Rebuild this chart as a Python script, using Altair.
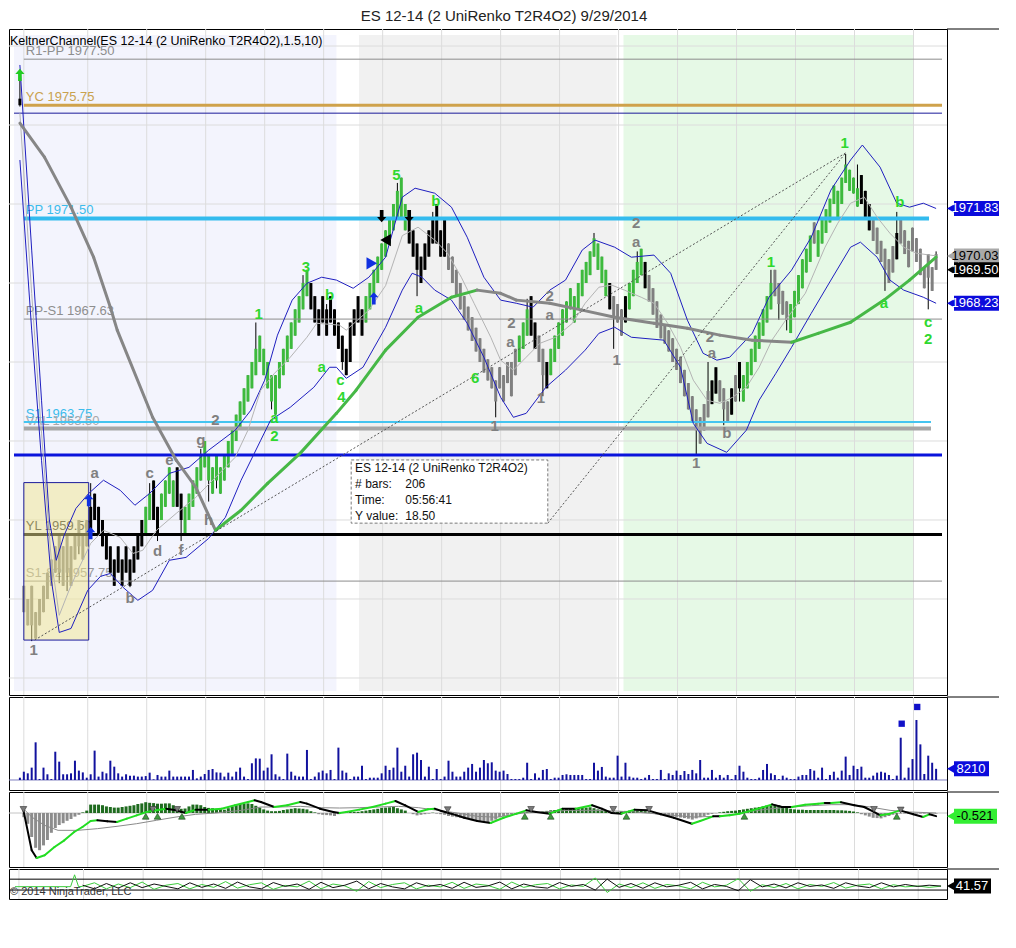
import altair as alt
import pandas as pd

TITLE = "ES 12-14 (2 UniRenko T2R4O2)  9/29/2014"
KELT = "KeltnerChannel(ES 12-14 (2 UniRenko T2R4O2),1.5,10)"
COPY = "\u00a9 2014 NinjaTrader, LLC"

# ---------------- data ----------------
closes = [
    1975.75, 1956.5, 1957.0, 1956.0, 1956.5, 1957.0, 1957.5, 1958.0, 1958.5, 1959.0,
    1958.0, 1959.0, 1958.0, 1959.0, 1959.5, 1959.0, 1959.5, 1960.0, 1960.5, 1960.0,
    1959.5, 1959.0, 1958.5, 1958.0, 1958.5, 1958.0, 1958.5, 1958.0, 1958.5, 1959.0,
    1959.5, 1960.0, 1960.5, 1961.0, 1960.0, 1960.5, 1961.0, 1961.5, 1961.0, 1961.5,
    1960.5, 1960.0, 1960.5, 1961.0, 1961.5, 1962.0, 1962.5, 1962.0, 1961.5, 1962.0,
    1961.5, 1962.0, 1962.5, 1963.0, 1963.5, 1964.0, 1964.5, 1965.0, 1965.5, 1966.0,
    1966.5, 1966.0, 1965.5, 1965.0, 1964.5, 1965.5, 1966.0, 1966.5, 1967.0, 1967.5,
    1968.0, 1968.5, 1969.0, 1968.5, 1968.0, 1967.5, 1968.0, 1967.5, 1968.0, 1967.5,
    1967.0, 1966.5, 1966.0, 1966.5, 1967.5, 1968.0, 1967.5, 1968.0, 1968.5, 1969.0,
    1969.5, 1970.0, 1970.5, 1971.0, 1971.5, 1972.0, 1972.5, 1971.5, 1971.0, 1970.5,
    1970.0, 1969.5, 1970.0, 1970.5, 1971.0, 1971.5, 1970.5, 1971.0, 1970.0, 1969.5,
    1969.0, 1968.5, 1968.0, 1967.6, 1967.2, 1966.8, 1966.4, 1966.0, 1965.6, 1965.3,
    1965.0, 1965.3, 1965.0, 1965.5, 1965.2, 1966.0, 1966.5, 1967.0, 1967.5, 1968.0,
    1967.0, 1966.5, 1966.0, 1965.5, 1966.0, 1966.5, 1967.0, 1967.5, 1968.0, 1968.3,
    1968.0, 1968.5, 1969.0, 1969.5, 1969.8, 1970.2, 1970.0, 1969.5, 1969.0, 1968.5,
    1968.0, 1967.7, 1967.5, 1968.0, 1968.5, 1969.0, 1969.5, 1969.8, 1969.3, 1968.8,
    1968.3, 1967.8, 1967.3, 1966.9, 1966.7, 1966.4, 1966.0, 1965.7, 1965.2, 1964.7,
    1964.2, 1963.7, 1963.4, 1963.9, 1964.4, 1964.9, 1965.3, 1964.8, 1964.5, 1964.2,
    1964.5, 1965.0, 1965.5, 1965.0, 1965.5, 1966.0, 1966.5, 1967.0, 1967.5, 1968.0,
    1968.5, 1969.0, 1968.5, 1968.2, 1967.8, 1967.6, 1968.2, 1968.7, 1969.3, 1969.9,
    1970.3, 1970.8, 1970.5, 1971.0, 1971.4, 1971.8, 1972.2, 1972.0, 1972.5, 1973.0,
    1972.8, 1972.5, 1972.4, 1972.6, 1972.0, 1971.5, 1971.0, 1970.6, 1970.1, 1969.8,
    1969.5, 1969.9, 1970.4, 1970.9, 1970.5, 1970.1, 1970.6, 1970.2, 1969.8, 1969.3,
    1969.6, 1969.2, 1969.6, 1969.5,
]
open_override = {0: 1976.0, 1: 1957.5}
wick_high = {0: 1977.1, 18: 1961.4, 33: 1961.4, 38: 1962.0, 46: 1962.7, 60: 1967.5,
             72: 1969.3, 78: 1968.2, 96: 1972.8, 105: 1971.7, 129: 1968.4, 146: 1970.9,
             157: 1970.2, 175: 1966.0, 191: 1969.5, 210: 1973.9, 213: 1973.5,
             223: 1971.7, 233: 1970.2}
wick_low = {0: 1975.7, 3: 1955.4, 10: 1957.6, 12: 1957.3, 15: 1958.7, 28: 1957.45,
            35: 1959.2, 41: 1959.2, 48: 1960.7, 50: 1961.2, 64: 1964.2, 82: 1965.7,
            101: 1968.5, 121: 1963.9, 133: 1964.7, 151: 1966.5, 172: 1962.5,
            179: 1963.6, 183: 1964.5, 193: 1967.6, 195: 1967.2, 220: 1968.7, 231: 1968.0}
# bar colour runs: (code, count)  k=black g=green y=gray
color_runs = [("k", 1), ("y", 17), ("k", 14), ("g", 2), ("k", 2), ("g", 4), ("k", 2),
              ("g", 32), ("k", 14), ("g", 11), ("k", 10), ("y", 18), ("g", 3), ("k", 2),
              ("y", 2), ("k", 1), ("g", 15), ("k", 1), ("y", 3), ("k", 1), ("g", 4),
              ("k", 1), ("y", 16), ("k", 2), ("y", 3), ("k", 1), ("y", 1), ("k", 1),
              ("g", 8), ("y", 4), ("g", 6), ("y", 1), ("g", 11), ("k", 3), ("y", 6),
              ("k", 1), ("y", 10)]

volume = [
    1700, 6100, 4900, 9100, 27700, 700, 9100, 4200, 700, 20800,
    13500, 4200, 4200, 4900, 14200, 6900, 5600, 1700, 4200, 21600,
    2500, 6100, 4900, 14200, 9800, 4900, 2500, 4200, 3200, 3200,
    2500, 2500, 2900, 5400, 500, 3700, 2500, 2500, 6900, 2500,
    2500, 2500, 2500, 2500, 7400, 1200, 2500, 4400, 7400, 8100,
    5600, 5400, 2500, 5400, 2500, 6100, 9100, 2500, 700, 12300,
    15900, 15700, 6900, 9100, 18900, 4200, 2500, 700, 19400, 6100,
    3200, 2500, 2500, 22100, 700, 2500, 5600, 6900, 4900, 7400,
    700, 23800, 6900, 5400, 700, 2500, 2500, 10500, 700, 1700,
    1700, 1700, 4900, 10500, 7400, 9100, 23800, 6100, 10500, 2500,
    18900, 20100, 14700, 2500, 9800, 700, 8100, 700, 2500, 14200,
    6100, 2500, 2500, 6100, 9100, 11800, 6100, 9100, 14700, 12300,
    13000, 6900, 6100, 6900, 4400, 700, 700, 700, 1700, 12700,
    700, 4900, 1700, 7400, 8100, 700, 1700, 1700, 3700, 4200,
    3700, 3700, 3700, 3700, 700, 700, 12700, 6900, 9600, 2500,
    1700, 1700, 17900, 2500, 12700, 2500, 1700, 1700, 700, 1700,
    3700, 700, 700, 7400, 700, 4900, 3700, 6900, 3700, 6600,
    4400, 7400, 4900, 14700, 1700, 1700, 7400, 1700, 3700, 1700,
    3700, 700, 3700, 10500, 6100, 1700, 700, 700, 1700, 7400,
    11800, 4900, 3700, 700, 3200, 1700, 700, 700, 2500, 3700,
    3700, 8100, 6900, 1700, 9100, 700, 3700, 6100, 1700, 6900,
    17200, 3700, 10500, 8100, 9800, 1700, 1700, 3200, 5400, 6100,
    5400, 3700, 700, 3200, 31100, 1700, 9100, 15400, 44100, 26200,
    4400, 17900, 12700, 8210,
]
vol_dot_b = [224.25, 228.2]
vol_dot_v = [41400, 53700]

hist = [
    0, -0.7, -1.8, -4.0, -5.8, -6.2, -5.4, -4.5, -3.3, -2.5,
    -2.0, -1.7, -1.3, -1.0, -0.6, -0.3, 0.1, 0.4, 1.4, 1.4,
    1.4, 1.3, 1.1, 1.0, 0.9, 0.9, 1.0, 1.1, 1.2, 1.3,
    1.5, 1.6, 1.8, 1.7, 1.65, 1.55, 1.55, 1.6, 1.6, 1.3,
    1.0, 0.7, 0.75, 1.1, 1.4, 1.4, 1.3, 1.0, 0.85, 0.8,
    0.7, 0.6, 0.55, 0.8, 1.1, 1.3, 1.5, 1.55, 1.6, 1.5,
    1.2, 0.9, 0.6, 0.4, 0.3, 0.3, 0.35, 0.5, 0.6, 0.7,
    0.8, 0.75, 0.7, 0.6, 0.3, 0.1, -0.2, -0.3, -0.35, -0.4,
    -0.5, -0.2, 0.1, 0.15, 0.2, 0.2, 0.2, 0.3, 0.4, 0.5,
    0.6, 0.7, 0.85, 0.9, 0.95, 1.0, 0.8, 0.6, 0.4, 0.0,
    -0.2, -0.4, -0.3, -0.2, -0.1, 0.05, -0.1, -0.2, -0.3, -0.5,
    -0.6, -0.7, -0.8, -0.9, -1.0, -1.2, -1.3, -1.4, -1.5, -1.5,
    -1.3, -1.1, -0.7, -0.5, -0.3, -0.2, -0.15, -0.1, 0.1, 0.2,
    0.25, 0.2, 0.15, 0.25, 0.35, 0.45, 0.5, 0.55, 0.6, 0.65,
    0.7, 0.75, 0.8, 0.85, 0.9, 0.95, 0.8, 0.6, 0.5, 0.4,
    0.2, 0.1, 0.15, 0.3, 0.35, 0.4, 0.35, 0.4, 0.35, 0.3,
    0.1, -0.1, -0.25, -0.35, -0.45, -0.5, -0.55, -0.65, -0.75, -0.85,
    -0.95, -1.1, -0.9, -0.7, -0.5, -0.3, -0.15, -0.05, 0.1, 0.2,
    0.3, 0.35, 0.4, 0.5, 0.6, 0.7, 0.8, 0.9, 1.0, 1.1,
    1.2, 1.3, 1.4, 1.3, 1.1, 0.9, 0.7, 0.6, 0.55, 0.55,
    0.5, 0.5, 0.5, 0.5, 0.5, 0.5, 0.5, 0.5, 0.45, 0.45,
    0.4, 0.35, 0.25, 0.1, -0.2, -0.4, -0.6, -0.8, -0.85, -0.9,
    -0.7, -0.5, -0.3, -0.2, -0.1, -0.1, -0.1, -0.1, -0.1, -0.1,
    -0.1, -0.1, -0.1, -0.1,
]

macd_b = [0.9, 3, 4.25, 6.3, 8.8, 11.3, 13.8, 15.9, 18, 19.7, 22.2, 24.7, 27.2, 29.7,
          32.2, 34.7, 37.2, 39.7, 42.2, 44.7, 48, 51.3, 54.7, 58, 59.7, 61.3, 64.7, 68,
          71.3, 73, 76.3, 79.7, 81.3, 83, 86.3, 89.7, 93, 95.5, 98, 101.3, 103.8, 105.5,
          107.2, 109.7, 113, 116.3, 119.7, 123, 126.3, 128.8, 131.3, 134.7, 138, 141.3,
          145.5, 148, 150.5, 153, 156.3, 159.7, 163, 166.3, 170.9, 173, 176.3, 178, 180.5,
          183, 186.3, 189.7, 191.3, 193.8, 196.3, 199.7, 203, 204.7, 206.3, 208.8, 212.2,
          214.7, 217.2, 218.8, 221.3, 223.8, 227.2, 229.7, 231.3, 233]
macd_v = [0.44, -6.2, -7.5, -7.05, -5.67, -4.56, -3.17, -2.33, -1.33, -1.22, -1.39, -1.5,
          -0.94, -0.39, 0.17, 0.44, 0.72, 0.44, 0.0, 0.56, 0.56, 0.72, 1.28, 1.83, 2.11,
          1.83, 1.0, 1.28, 1.83, 1.56, 0.72, 0.17, 0.0, 0.17, 0.56, 1.0, 1.56, 2.0, 1.28,
          0.17, 0.61, 0.72, 0.33, -0.11, -0.78, -1.33, -1.67, -0.8, -0.11, 0.44, 0.17,
          -0.11, 0.72, 0.72, 1.28, 0.72, 0.0, -0.11, 0.56, 0.44, -0.22, -0.78, -1.78,
          -1.33, -0.56, -0.56, -0.39, -0.11, 0.44, 1.11, 1.44, 1.0, 1.0, 1.39, 1.56, 1.67,
          1.67, 1.78, 1.28, 1.0, 0.17, -0.39, -0.11, 0.44, -0.22, -0.67, -0.22, -0.52]
sig_b = [0.9, 3, 6.3, 9.7, 14.7, 19.7, 24.7, 29.7, 34.7, 39.7, 44.7, 49.7, 56.3, 61.3,
         66.3, 71.3, 76.3, 81.3, 86.3, 91.3, 96.3, 101.3, 106.3, 111.3, 116.3, 121.3, 128,
         133, 139.7, 146.3, 151.3, 156.3, 161.3, 166.3, 171.3, 176.3, 181.3, 186.3, 191.3,
         196.3, 201.3, 206.3, 211.3, 216.3, 221.3, 226.3, 233]
sig_v = [0.72, -0.67, -2.06, -2.89, -2.89, -2.61, -2.22, -1.78, -1.22, -0.67, -0.22, 0.0,
         0.44, 1.0, 1.0, 1.11, 0.89, 0.83, 0.89, 1.0, 1.11, 0.89, 0.44, 0.0, -0.56, -0.7,
         0.0, 0.17, 0.44, 0.44, 0.33, 0.17, -0.11, -0.39, -0.67, -0.56, -0.28, 0.33, 0.72,
         1.0, 1.22, 1.39, 1.39, 1.0, 0.44, 0.17, 0.0]
tri_dn_b = [0.9, 33.8, 40, 108.8, 130, 150.9, 160, 217.2, 224]
tri_dn_v = [0.6, 0.6, 0.6, 0.55, 0.6, 0.6, 0.6, 0.6, 0.5]
tri_up_b = [32, 35, 41.2, 128.4, 135, 154.25, 184.25, 223]
tri_up_v = [-0.55, -0.55, -0.55, -0.55, -0.55, -0.55, -0.55, -0.55]

osc_g_head_b = [0, 14, 15, 16]
osc_g_head_v = [39, 39, 88, 39]
osc_green = [40, 55, 30, 50, 35, 58, 28, 45, 52, 30,
             48, 36, 60, 33, 47, 55, 28, 44, 38, 62,
             30, 50, 42, 20, 60, 35, 48, 55, 30, 45,
             38, 57, 32, 50, 44, 28, 58, 36, 47, 52,
             30, 46, 40, 75, 15, 50, 35, 55, 32, 48,
             42, 30, 57, 38, 45, 72, 20, 47, 35, 52,
             30, 48, 40, 56, 33, 45, 50, 30, 47, 38,
             42, 36, 41]
osc_black = [45, 30, 52, 33, 55, 35, 50, 40, 30, 55,
             36, 50, 32, 58, 38, 30, 56, 40, 50, 28,
             57, 35, 45, 62, 30, 52, 38, 30, 55, 40,
             48, 32, 57, 36, 42, 58, 30, 50, 38, 33,
             56, 40, 48, 25, 70, 36, 52, 32, 55, 38,
             45, 57, 30, 48, 40, 22, 68, 38, 50, 34,
             55, 40, 46, 32, 55, 42, 35, 55, 38, 48,
             40, 45, 41.57]
osc_levels = [70, 25]

upper_b = [0, 3, 5.5, 7.5, 9.25, 11.25, 14.25, 17.5, 21.25, 25.5, 29.25, 33, 38, 43, 48,
           54.75, 58.75, 62.25, 65.5, 69.25, 73, 76.75, 80.5, 84.75, 88.75, 93, 97.25,
           100.5, 105.5, 109.75, 113.75, 118, 122.25, 126.25, 130.5, 134.75, 138.75, 143,
           146.25, 151.25, 155.5, 161.25, 165.5, 169.75, 173.75, 177.25, 180.5, 186.25,
           190.5, 196.25, 201.25, 206.25, 211.25, 214.25, 218.75, 223, 226.25, 229.75, 233]
upper_p = [1977.28, 1970.25, 1964.55, 1960.0, 1958.47, 1959.42, 1960.44, 1961.01, 1961.51,
           1961.13, 1960.56, 1961.01, 1961.77, 1962.0, 1962.65, 1963.41, 1964.17, 1965.31,
           1967.02, 1968.35, 1968.99, 1969.22, 1969.11, 1968.8, 1969.22, 1969.98, 1972.26,
           1972.6, 1972.41, 1971.88, 1970.74, 1969.22, 1968.35, 1968.23, 1968.08, 1968.73,
           1969.11, 1970.25, 1970.63, 1970.36, 1969.98, 1970.06, 1969.37, 1967.59, 1966.33,
           1966.07, 1966.18, 1967.09, 1968.46, 1969.49, 1970.74, 1972.53, 1973.67, 1974.24,
           1973.4, 1972.03, 1971.88, 1972.03, 1971.83]
lower_b = [0, 3, 5.5, 8, 10, 13, 17.25, 20.5, 23, 26.25, 30, 33.75, 38, 42.25, 48, 52.25,
           56.25, 61.25, 63.75, 68.75, 74.75, 78.75, 80.5, 83, 87.25, 93, 97.25, 99.75,
           102.25, 105.5, 109.75, 113.75, 118, 122.25, 125.5, 128.75, 133.75, 138.75, 143.75,
           147.25, 151.25, 155.5, 163.75, 168, 171.25, 174.75, 179.75, 184.75, 188, 192.25,
           196.25, 201.25, 206.25, 211.25, 213.75, 218, 221.25, 224.75, 229.75, 233]
lower_p = [1973.67, 1967.21, 1962.27, 1957.71, 1955.73, 1955.88, 1957.33, 1957.86, 1957.97,
           1957.44, 1956.95, 1957.33, 1958.47, 1958.58, 1959.3, 1960.1, 1961.51, 1963.03,
           1963.79, 1964.28, 1965.04, 1965.8, 1965.8, 1965.38, 1965.8, 1967.32, 1968.73,
           1969.37, 1969.22, 1968.73, 1968.35, 1967.47, 1966.18, 1964.66, 1963.9, 1964.05,
           1965.04, 1965.69, 1966.45, 1967.09, 1967.32, 1966.94, 1966.83, 1965.8, 1963.67,
           1962.91, 1962.57, 1963.41, 1964.55, 1965.57, 1966.56, 1967.85, 1969.11, 1970.36,
           1970.55, 1969.98, 1969.11, 1968.73, 1968.46, 1968.23]
mid_b = [0, 3, 5.5, 8, 10, 12.5, 14.75, 18, 21.25, 25.5, 28.75, 31.25, 34.75, 39.75, 44.75,
         49.75, 54.75, 58, 61.25, 64.75, 68.75, 73, 75.5, 81.25, 83, 88.75, 93, 97.25,
         101.25, 105.5, 108.75, 112.25, 115.5, 119.75, 122.25, 125.5, 128.75, 132.25,
         136.25, 140.5, 143.75, 147.25, 150.5, 153.75, 158, 161.25, 164.75, 168, 171.25,
         174.75, 178, 181.25, 184.75, 188, 191.25, 194.75, 199.75, 204.75, 208, 211.25,
         214.75, 218, 221.25, 224.75, 228, 233]
mid_p = [1975.45, 1968.6, 1963.3, 1958.47, 1956.38, 1957.33, 1958.09, 1959.11, 1959.61,
         1959.34, 1958.73, 1958.85, 1959.61, 1960.25, 1960.86, 1961.62, 1962.38, 1963.41,
         1964.93, 1965.57, 1966.18, 1966.94, 1967.47, 1967.4, 1967.21, 1967.97, 1968.9,
         1970.8, 1971.12, 1970.63, 1970.13, 1969.22, 1968.23, 1966.94, 1966.07, 1965.69,
         1966.18, 1966.71, 1966.94, 1967.47, 1968.23, 1968.84, 1968.92, 1968.73, 1968.46,
         1968.23, 1967.47, 1966.56, 1965.31, 1964.55, 1964.43, 1964.66, 1965.04, 1965.8,
         1966.83, 1967.59, 1968.61, 1970.36, 1971.27, 1972.03, 1972.26, 1971.5, 1970.89,
         1970.36, 1970.13, 1970.03]
ma_b = [0, 6.25, 13, 18.75, 23, 24.75, 33.75, 39.75, 44.75, 49.75, 56.25, 63, 71.25, 80.5,
        85.5, 93, 101.25, 109.75, 116.25, 122.25, 126.25, 134.75, 143, 151.25, 161.25,
        169.75, 178, 186.25, 196.25, 203, 211.25, 219.75, 226.25, 233]
ma_p = [1975.07, 1973.78, 1971.88, 1969.98, 1968.08, 1967.21, 1963.9, 1962.27, 1961.24,
        1959.61, 1960.37, 1961.39, 1962.53, 1964.05, 1964.93, 1966.45, 1967.7, 1968.46,
        1968.73, 1968.61, 1968.35, 1968.23, 1967.97, 1967.7, 1967.47, 1967.28, 1967.02,
        1966.83, 1966.75, 1967.09, 1967.51, 1968.35, 1969.11, 1969.98]

piv_name = ["R1-PP 1977.50", "YC 1975.75", "", "PP 1971.50", "PP-S1 1967.63",
            "S1 1963.75", "VAL 1963.50", "", "YL 1959.50", "S1-S2 1957.75"]
piv_p = [1977.5, 1975.75, 1975.45, 1971.45, 1967.63, 1963.72, 1963.47, 1962.47, 1959.45, 1957.68]
piv_x0 = [1, 1, -1.5, 1, 1, 1, 1, -1.5, 1, 1]
piv_x1 = [234.5, 234.5, 234.5, 231.2, 234.5, 231.7, 231.7, 234.5, 234.5, 234.5]
piv_col = ["#8c8c8c", "#cfa24b", "#1a1a9a", "#33bbee", "#8c8c8c", "#44c4f0", "#a6a6a6",
           "#0a14dc", "#000000", "#8c8c8c"]
piv_w = [1, 3, 1, 4, 1, 2, 4, 3, 3, 1]
piv_lab_col = ["#8e8e8e", "#c9a24e", "#1a1a9a", "#3cbcec", "#8e8e8e", "#3cbcec", "#a8a8a8",
               "#0a14dc", "#2a2a2a", "#9a9a9a"]

shade_b0 = [-1.5, 86.25, 153.5]
shade_b1 = [80.5, 151.75, 227.25]
shade_col = ["#f3f4fd", "#f1f1f1", "#e6f9e6"]

wave_b = [3.5, 19, 28, 33, 35, 38, 41, 46, 48, 49.75, 60.75, 64.75, 64.75, 72.75, 78.75,
          76.75, 81.5, 81.75, 95.75, 105.75, 101.5, 115.75, 120.75, 125, 124.75, 134.75,
          134.75, 132.5, 151.75, 156.75, 156.75, 175.5, 176, 172, 179.75, 191, 209.75,
          223.75, 219.75, 231, 231]
wave_p = [1955.06, 1961.78, 1957.04, 1961.78, 1958.82, 1962.28, 1958.86, 1963.04, 1960.0,
          1963.8, 1967.82, 1963.87, 1963.19, 1969.6, 1968.54, 1965.8, 1965.3, 1964.67, 1973.1,
          1972.11, 1968.05, 1965.39, 1963.57, 1967.48, 1966.76, 1968.5, 1967.78, 1964.63,
          1966.07, 1971.28, 1970.56, 1966.95, 1966.34, 1962.16, 1963.3, 1969.8, 1974.32,
          1972.08, 1968.24, 1967.52, 1966.87]
wave_t = ["1", "a", "b", "c", "d", "e", "f", "g", "h", "2", "1", "a", "2", "3", "b", "a",
          "c", "4", "5", "b", "a", "6", "1", "2", "a", "2", "a", "1", "1", "2", "a", "2",
          "a", "1", "b", "1", "1", "b", "a", "c", "2"]
wave_c = ["y", "y", "y", "y", "y", "y", "y", "y", "y", "y", "g", "g", "g", "g",
          "g", "g", "g", "g", "g", "g", "g", "g", "y", "y", "y", "y", "y", "y", "y", "y",
          "y", "y", "y", "y", "y", "g", "g", "g", "g", "g", "g"]

arr_b = [0, 17.5, 18, 90, 89.5, 92, 99, 93]
arr_p = [1976.9, 1960.75, 1959.5, 1968.42, 1969.75, 1971.54, 1971.54, 1970.63]
arr_s = ["up", "up", "up", "up", "right", "down", "down", "left"]
arr_c = ["#22cc22", "#1030e0", "#1030e0", "#1030e0", "#1030e0", "#000000", "#000000", "#000000"]

box_b = [1, 17.5]
box_p = [1955.44, 1961.42]
measure_b = [3.75, 134.25]
measure_p = [1955.44, 1959.88]
measure_end_b = [210, 210]
measure_end_p = [1973.94, 1973.94]
tip_box_b = [84.25, 134.25]
tip_box_p = [1959.88, 1962.28]
tip_keys = ["ES 12-14 (2 UniRenko T2R4O2)", "# bars:", "Time:", "Y value:"]
tip_vals = ["", "206", "05:56:41", "18.50"]
tip_p = [1961.96, 1961.36, 1960.75, 1960.14]

tick_b = [1, 17.25, 32.25, 47.25, 62.25, 77.25, 92.25, 107.25, 122.25, 137.25, 152.25,
          167.25, 182.25, 197.25, 212.25, 227.25]
tick_lab = ["9/29", "06:44", "06:58", "07:09", "07:25", "07:51", "08:13", "09:04", "09:43",
            "10:17", "10:50", "11:19", "11:48", "12:13", "12:35", "12:59"]
price_ticks = list(range(1954, 1979))
hgrid_p = [1954, 1957, 1960, 1963, 1966, 1969, 1972, 1975, 1978]

flag_main_v = [1971.83, 1970.03, 1969.50, 1968.23]
flag_main_t = ["1971.83", "1970.03", "1969.50", "1968.23"]
flag_main_bg = ["#0b0bdc", "#a9a9a9", "#000000", "#0b0bdc"]
flag_main_fg = ["#ffffff", "#000000", "#ffffff", "#ffffff"]

# ---------------- layout constants ----------------
W = 938
H_MAIN, H_VOL, H_MACD, H_OSC = 666, 93, 75, 30
XDOM = [-1.5, 234.5]
PDOM = [1953.354, 1978.646]
VDOM = [-7353, 61029]
MDOM = [-9, 3.5]
ODOM = [-12, 112]
FONT = "Liberation Sans"
GREEN_BAR = "#3dba3d"
GREEN_TXT = "#2fd82f"
GRAY_TXT = "#808080"
GRID = "#dcdcdc"


def X(f="b", axis=None):
    return alt.X(f"{f}:Q", scale=alt.Scale(domain=XDOM, nice=False, zero=False), axis=axis)


def Y(f, dom, axis=None):
    return alt.Y(f"{f}:Q", scale=alt.Scale(domain=dom, nice=False, zero=False), axis=axis)


def seg_df(bs, vs, up, dn):
    rows = []
    for i in range(len(bs) - 1):
        rows.append(dict(b=bs[i], v=vs[i], b2=bs[i + 1], v2=vs[i + 1],
                         c=up if vs[i + 1] > vs[i] else dn))
    return pd.DataFrame(rows)


def flag_layers(vals, texts, bgs, fgs, dom, right=990, tx=966):
    df = pd.DataFrame(dict(v=vals, t=texts, bg=bgs, fg=fgs))
    base = alt.Chart(df)
    r = base.mark_rule(strokeWidth=15, strokeCap="butt").encode(
        x=alt.value(945), x2=alt.value(right), y=Y("v", dom), color=alt.Color("bg:N", scale=None))
    tri = base.mark_point(shape="triangle-left", filled=True, size=190, opacity=1).encode(
        x=alt.value(944), y=Y("v", dom), color=alt.Color("bg:N", scale=None))
    txt = base.mark_text(fontSize=13, align="center", baseline="middle", font=FONT).encode(
        x=alt.value(tx), y=Y("v", dom), text="t:N", color=alt.Color("fg:N", scale=None))
    return [r, tri, txt]


def vgrid():
    return alt.Chart(pd.DataFrame({"b": tick_b})).mark_rule(color=GRID, strokeWidth=1).encode(x=X())


def sep():
    # panel separator continuing to the right of the price axis
    return alt.Chart(pd.DataFrame({"k": [0]})).mark_rule(color="#000000", strokeWidth=1).encode(
        x=alt.value(W), x2=alt.value(990), y=alt.value(0))


# ---------------- candles ----------------
col_map = {"k": "#000000", "g": GREEN_BAR, "y": "#808080"}
bar_cols = []
for code, n in color_runs:
    bar_cols += [col_map[code]] * n
rows = []
for i, c in enumerate(closes):
    if i in open_override:
        o = open_override[i]
    else:
        prev = closes[i - 1]
        o = prev - 0.5 if c > prev else prev + 0.5
    lo, hi = min(o, c), max(o, c)
    rows.append(dict(b=i, lo=lo, hi=hi,
                     high=max(hi, wick_high.get(i, hi)), low=min(lo, wick_low.get(i, lo)),
                     col=bar_cols[i] if i < len(bar_cols) else "#808080"))
cdf = pd.DataFrame(rows)

# ---------------- main panel ----------------
price_axis = alt.Axis(orient="right", values=price_ticks, format=".2f", title=None, grid=False,
                      domain=False, tickSize=4, labelPadding=3, labelFontSize=12,
                      labelColor="#222222", tickColor="#000000", labelFont=FONT)

shade = alt.Chart(pd.DataFrame(dict(b0=shade_b0, b1=shade_b1, c=shade_col))).mark_rect().encode(
    x=X("b0"), x2="b1", y=alt.value(6), y2=alt.value(H_MAIN - 4), color=alt.Color("c:N", scale=None))
hgrid = alt.Chart(pd.DataFrame({"p": hgrid_p})).mark_rule(color=GRID).encode(y=Y("p", PDOM, price_axis))

piv_df = pd.DataFrame(dict(p=piv_p, x0=piv_x0, x1=piv_x1, c=piv_col, w=piv_w, t=piv_name,
                           lc=piv_lab_col, lx=[1.5] * len(piv_p)))
piv_lab = alt.Chart(piv_df).mark_text(align="left", baseline="bottom", dy=-1, fontSize=13,
                                      font=FONT).encode(
    x=X("lx"), y=Y("p", PDOM), text="t:N", color=alt.Color("lc:N", scale=None))
piv_lines = alt.Chart(piv_df).mark_rule(strokeCap="butt").encode(
    x=X("x0"), x2="x1", y=Y("p", PDOM), color=alt.Color("c:N", scale=None),
    strokeWidth=alt.StrokeWidth("w:Q", scale=None))

wicks = alt.Chart(cdf).mark_rule(color="#000000", strokeWidth=1).encode(
    x=X(), y=Y("low", PDOM), y2="high")
bodies = alt.Chart(cdf).mark_bar(size=3).encode(
    x=X(), y=Y("lo", PDOM), y2="hi", color=alt.Color("col:N", scale=None))

box = alt.Chart(pd.DataFrame(dict(b0=[box_b[0]], b1=[box_b[1]], p0=[box_p[0]], p1=[box_p[1]]))).mark_rect(
    fill="#f1e690", fillOpacity=0.5, stroke="#1c1c9c", strokeWidth=1).encode(
    x=X("b0"), x2="b1", y=Y("p0", PDOM), y2="p1")

upper = alt.Chart(pd.DataFrame(dict(b=upper_b, p=upper_p))).mark_line(
    color="#1f1fc0", strokeWidth=1).encode(x=X(), y=Y("p", PDOM))
lower = alt.Chart(pd.DataFrame(dict(b=lower_b, p=lower_p))).mark_line(
    color="#1f1fc0", strokeWidth=1).encode(x=X(), y=Y("p", PDOM))
mid = alt.Chart(pd.DataFrame(dict(b=mid_b, p=mid_p))).mark_line(
    color="#b4b4b4", strokeWidth=1).encode(x=X(), y=Y("p", PDOM))
ma = alt.Chart(seg_df(ma_b, ma_p, "#46b846", "#868686")).mark_rule(
    strokeWidth=3, strokeCap="round").encode(
    x=X("b"), y=Y("v", PDOM), x2="b2", y2="v2", color=alt.Color("c:N", scale=None))

meas = alt.Chart(pd.DataFrame(dict(b=measure_b, p=measure_p, b2=measure_end_b, p2=measure_end_p))).mark_rule(
    strokeDash=[2, 2], color="#555555", strokeWidth=1).encode(
    x=X("b"), y=Y("p", PDOM), x2="b2", y2="p2")

tipbox = alt.Chart(pd.DataFrame(dict(b0=[tip_box_b[0]], b1=[tip_box_b[1]],
                                     p0=[tip_box_p[0]], p1=[tip_box_p[1]]))).mark_rect(
    fill="#ffffff", stroke="#7a7a7a", strokeDash=[3, 2], strokeWidth=1).encode(
    x=X("b0"), x2="b1", y=Y("p0", PDOM), y2="p1")
tip_df = pd.DataFrame(dict(t=tip_keys, v=tip_vals, p=tip_p, b=[85.25] * 4, b2=[98] * 4))
tiptxt = alt.Chart(tip_df).mark_text(align="left", baseline="middle", fontSize=12, font=FONT,
                                     color="#111111").encode(x=X("b"), y=Y("p", PDOM), text="t:N")
tipval = alt.Chart(tip_df).mark_text(align="left", baseline="middle", fontSize=12, font=FONT,
                                     color="#111111").encode(x=X("b2"), y=Y("p", PDOM), text="v:N")

wave_df = pd.DataFrame(dict(b=wave_b, p=wave_p, t=wave_t,
                            c=[GREEN_TXT if k == "g" else GRAY_TXT for k in wave_c]))
waves = alt.Chart(wave_df).mark_text(fontSize=15, fontWeight="bold", font=FONT, align="center",
                                     baseline="middle").encode(
    x=X(), y=Y("p", PDOM), text="t:N", color=alt.Color("c:N", scale=None))

UP = "M0,-1L0.75,-0.15L0.3,-0.15L0.3,1L-0.3,1L-0.3,-0.15L-0.75,-0.15Z"
DOWN = "M0,1L0.75,0.15L0.3,0.15L0.3,-1L-0.3,-1L-0.3,0.15L-0.75,0.15Z"
shape_map = {"up": UP, "down": DOWN, "right": "triangle-right", "left": "triangle-left"}
arr_df = pd.DataFrame(dict(b=arr_b, p=arr_p, s=[shape_map[s] for s in arr_s], c=arr_c))
arrows = alt.Chart(arr_df).mark_point(filled=True, opacity=1, size=150).encode(
    x=X(), y=Y("p", PDOM), shape=alt.Shape("s:N", scale=None), color=alt.Color("c:N", scale=None))

kelt = alt.Chart(pd.DataFrame({"t": [KELT]})).mark_text(
    align="left", baseline="middle", fontSize=12.5, font=FONT, color="#000000").encode(
    x=alt.value(1), y=alt.value(12), text="t:N")
title_t = alt.Chart(pd.DataFrame({"t": [TITLE]})).mark_text(
    align="center", baseline="middle", fontSize=15, font=FONT, color="#222222").encode(
    x=alt.value(495), y=alt.value(-13), text="t:N")

main = alt.layer(
    shade, vgrid(), hgrid, piv_lab, wicks, bodies, piv_lines, box, upper, lower, mid, ma,
    meas, tipbox, tiptxt, tipval, waves, arrows, kelt, title_t, sep(),
    *flag_layers(flag_main_v, flag_main_t, flag_main_bg, flag_main_fg, PDOM)
).properties(width=W, height=H_MAIN)

# ---------------- volume panel ----------------
vdf = pd.DataFrame(dict(b=list(range(len(volume))), v=volume))
vol_axis = alt.Axis(orient="right", values=[0, 50000], format="d", title=None, grid=False,
                    domain=False, tickSize=4, labelPadding=3, labelFontSize=12,
                    labelColor="#222222", tickColor="#000000", labelFont=FONT)
vbase = alt.Chart(pd.DataFrame({"v": [0]})).mark_rule(color="#7f7fc0").encode(y=Y("v", VDOM))
vbars = alt.Chart(vdf).mark_bar(size=2, color="#12129e").encode(x=X(), y=Y("v", VDOM, vol_axis))
vdots = alt.Chart(pd.DataFrame(dict(b=vol_dot_b, v=vol_dot_v))).mark_point(
    shape="square", filled=True, size=40, opacity=1, color="#1010c8").encode(x=X(), y=Y("v", VDOM))
vol = alt.layer(
    vgrid(), vbase, vbars, vdots, sep(),
    *flag_layers([8210], ["8210"], ["#0b0bdc"], ["#ffffff"], VDOM, right=980, tx=962)
).properties(width=W, height=H_VOL)

# ---------------- MACD panel ----------------
hdf = pd.DataFrame(dict(b=list(range(len(hist))), v=hist,
                        c=["#1f6b1f" if h > 0 else "#8c8c8c" for h in hist]))
mzero = alt.Chart(pd.DataFrame({"v": [0]})).mark_rule(color="#c4c4c4").encode(y=Y("v", MDOM))
hbars = alt.Chart(hdf).mark_bar(size=3).encode(
    x=X(), y=Y("v", MDOM), y2=alt.datum(0), color=alt.Color("c:N", scale=None))
sig = alt.Chart(pd.DataFrame(dict(b=sig_b, v=sig_v))).mark_line(
    color="#8a8a8a", strokeWidth=1).encode(x=X(), y=Y("v", MDOM))
macd_l = alt.Chart(seg_df(macd_b, macd_v, "#22dd22", "#000000")).mark_rule(
    strokeWidth=2, strokeCap="round").encode(
    x=X("b"), y=Y("v", MDOM), x2="b2", y2="v2", color=alt.Color("c:N", scale=None))
tdn = alt.Chart(pd.DataFrame(dict(b=tri_dn_b, v=tri_dn_v))).mark_point(
    shape="triangle-down", filled=True, size=45, opacity=1, color="#7a7a7a",
    stroke="#333333", strokeWidth=0.6).encode(x=X(), y=Y("v", MDOM))
tup = alt.Chart(pd.DataFrame(dict(b=tri_up_b, v=tri_up_v))).mark_point(
    shape="triangle-up", filled=True, size=45, opacity=1, color="#3f9a3f",
    stroke="#1f3f1f", strokeWidth=0.6).encode(x=X(), y=Y("v", MDOM))
macd = alt.layer(
    vgrid(), mzero, hbars, sig, macd_l, tdn, tup, sep(),
    *flag_layers([-0.521], ["-0.521"], ["#33ee33"], ["#000000"], MDOM, right=988, tx=966)
).properties(width=W, height=H_MACD)

# ---------------- oscillator panel ----------------
g_b = osc_g_head_b + [17 + 3 * i for i in range(len(osc_green))]
g_v = osc_g_head_v + osc_green
k_b = [17 + 3 * i for i in range(len(osc_black))]
x_axis = alt.Axis(values=tick_b, labelExpr="{" + ",".join(
    f"'{v}':'{l}'" for v, l in zip(tick_b, tick_lab)) + "}[datum.value]",
    grid=False, domain=False, ticks=True, tickSize=5, tickColor="#000000",
    labelFontSize=12, labelColor="#222222", labelFont=FONT, title=None,
    labelFlush=False, labelOverlap=False, labelPadding=2)
osc_axis = alt.Axis(orient="right", values=[0], format="d", title=None, grid=False,
                    domain=False, tickSize=4, labelPadding=3, labelFontSize=12,
                    labelColor="#222222", tickColor="#000000", labelFont=FONT)
olev = alt.Chart(pd.DataFrame({"v": osc_levels})).mark_rule(color="#000000").encode(
    y=Y("v", ODOM, osc_axis))
og = alt.Chart(pd.DataFrame(dict(b=g_b, v=g_v))).mark_line(
    color="#3ccc3c", strokeWidth=1).encode(x=X("b", x_axis), y=Y("v", ODOM))
ok = alt.Chart(pd.DataFrame(dict(b=k_b, v=osc_black))).mark_line(
    color="#111111", strokeWidth=1).encode(x=X(), y=Y("v", ODOM))
copy_t = alt.Chart(pd.DataFrame({"t": [COPY]})).mark_text(
    align="left", baseline="middle", fontSize=11, font=FONT, color="#333333").encode(
    x=alt.value(1), y=alt.value(23), text="t:N")
osc = alt.layer(
    vgrid(), olev, og, ok, copy_t, sep(),
    *flag_layers([41.57], ["41.57"], ["#000000"], ["#ffffff"], ODOM, right=982, tx=963)
).properties(width=W, height=H_OSC)

chart = alt.vconcat(main, vol, macd, osc, spacing=0).properties(
    padding={"left": 0, "top": 0, "right": 0, "bottom": 0}
).configure(font=FONT, background="#ffffff").configure_view(stroke="#000000", strokeWidth=1)

chart.save("out.html", embed_options={"renderer": "svg", "actions": False})
